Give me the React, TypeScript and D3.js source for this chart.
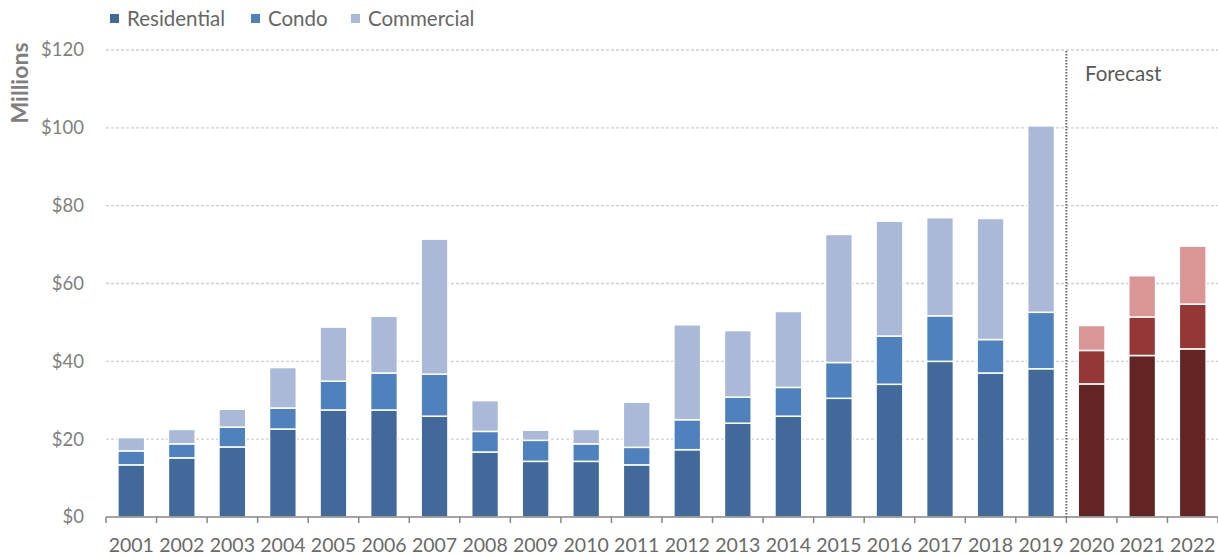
import React from "react";
import * as d3 from "d3";

const years = ["2001","2002","2003","2004","2005","2006","2007","2008","2009","2010","2011","2012","2013","2014","2015","2016","2017","2018","2019","2020","2021","2022"];
const residential = [13.4, 15.2, 18.0, 22.6, 27.5, 27.5, 25.9, 16.7, 14.3, 14.3, 13.4, 17.3, 24.1, 25.9, 30.5, 34.1, 40.0, 37.0, 38.1, 34.2, 41.5, 43.2];
const condo = [3.6, 3.6, 5.1, 5.4, 7.4, 9.5, 10.8, 5.3, 5.4, 4.5, 4.5, 7.7, 6.7, 7.4, 9.2, 12.4, 11.7, 8.6, 14.5, 8.6, 9.9, 11.5];
const commercial = [3.4, 3.7, 4.6, 10.4, 13.9, 14.6, 34.7, 7.9, 2.6, 3.7, 11.6, 24.4, 17.1, 19.5, 32.9, 29.5, 25.2, 31.1, 47.9, 6.4, 10.6, 14.9];
const seriesNames = ["Residential", "Condo", "Commercial"];
const yTicks = [0, 20, 40, 60, 80, 100, 120];
const forecastStart = "2020";

const histColors = ["#416A9B", "#4F81BD", "#AAB9D7"];
const fcColors = ["#632523", "#953735", "#D99694"];

const W = 1218, H = 557;
const FONT = "Lato, 'Open Sans', sans-serif";

export default function App() {
  const x = d3.scaleBand<string>().domain(years).range([106, 1218]).paddingInner(0.47).paddingOuter(0.235);
  const y = d3.scaleLinear().domain([0, 120]).range([517, 50]);
  const table = years.map((yr, i) => ({ year: yr, Residential: residential[i], Condo: condo[i], Commercial: commercial[i] }));
  const stacked = d3.stack<any>().keys(seriesNames)(table);
  const fIdx = years.indexOf(forecastStart);
  const divX = (x(forecastStart) as number) - (x.step() * x.paddingInner()) / 2;
  const step = x.step();
  const bandStart = x.range()[0];
  const tickXs = d3.range(years.length + 1).map((i) => bandStart + i * step);

  return (
    <svg width={W} height={H} style={{ position: "absolute", left: 0, top: 0, fontFamily: FONT }}>
      <rect width={W} height={H} fill="#fff" />
      {yTicks.filter((t) => t > 0).map((t) => (
        <line key={"g" + t} x1={106} x2={1218} y1={y(t)} y2={y(t)} stroke="#CFCFCF" strokeWidth={1.4} strokeDasharray="3,2" />
      ))}
      {stacked.map((layer, si) =>
        layer.map((d, i) => {
          const isF = i >= fIdx;
          const col = isF ? fcColors[si] : histColors[si];
          return (
            <rect key={si + "-" + i} x={x(years[i])} width={x.bandwidth()} y={y(d[1])} height={y(d[0]) - y(d[1])} fill={col} stroke="#fff" strokeWidth={1.5} />
          );
        })
      )}
      <line x1={106} x2={1218} y1={517} y2={517} stroke="#868686" strokeWidth={1.5} />
      {tickXs.map((tx, i) => (
        <line key={"t" + i} x1={tx} x2={tx} y1={517} y2={523} stroke="#868686" strokeWidth={1.5} />
      ))}
      <line x1={divX} x2={divX} y1={51} y2={517} stroke="#666666" strokeWidth={2} strokeDasharray="1.6,1.4" />
      <text x={1085} y={81} fontSize={20.5} fill="#595959">Forecast</text>
      {yTicks.map((t) => (
        <text key={"yl" + t} x={84} y={y(t)} dy="0.35em" textAnchor="end" fontSize={18.5} fill="#7F7F7F">{"$" + t}</text>
      ))}
      {years.map((yr) => (
        <text key={"xl" + yr} x={(x(yr) as number) + x.bandwidth() / 2} y={552} textAnchor="middle" fontSize={19.5} fill="#6A6A6A">{yr}</text>
      ))}
      <text transform="translate(28,83) rotate(-90)" textAnchor="middle" fontSize={23} fontWeight="bold" fill="#7F7F7F">Millions</text>
      {[{ n: "Residential", sx: 110, tx: 127 }, { n: "Condo", sx: 251, tx: 268 }, { n: "Commercial", sx: 351, tx: 368 }].map((l, i) => (
        <g key={l.n}>
          <rect x={l.sx} y={14} width={9} height={9} fill={histColors[i]} />
          <text x={l.tx} y={25.5} fontSize={20.5} fill="#666666">{l.n}</text>
        </g>
      ))}
    </svg>
  );
}
